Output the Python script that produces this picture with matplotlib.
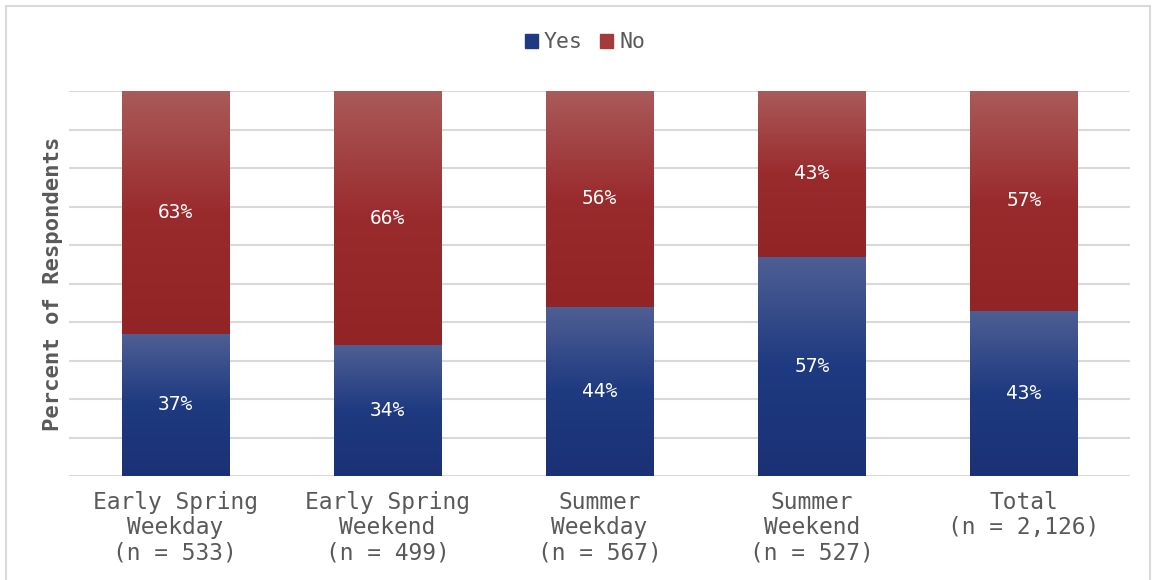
import numpy as np
import matplotlib.pyplot as plt
from matplotlib.patches import Rectangle
from matplotlib.colors import LinearSegmentedColormap

categories = ['Early Spring\nWeekday\n(n = 533)', 'Early Spring\nWeekend\n(n = 499)',
              'Summer\nWeekday\n(n = 567)', 'Summer\nWeekend\n(n = 527)', 'Total\n(n = 2,126)']
yes = [37, 34, 44, 57, 43]
no = [63, 66, 56, 43, 57]

plt.rcParams['font.family'] = ['DejaVu Sans Mono']
grey = '#595959'

fig = plt.figure(figsize=(11.52, 5.8), dpi=100)
ax = fig.add_axes([0.06, 0.179, 0.921, 0.664])

x = np.arange(len(categories))
w = 0.505
blue_cm = LinearSegmentedColormap.from_list('b', ['#1b3175', '#1e3a80', '#4f5f94'])
red_cm = LinearSegmentedColormap.from_list('r', ['#922426', '#9a2b2d', '#aa5a5a'])
grad = np.linspace(0, 1, 256).reshape(-1, 1)

def gradient_bar(xc, bottom, height, cmap):
    rect = Rectangle((xc - w / 2, bottom), w, height, facecolor='none', edgecolor='none')
    ax.add_patch(rect)
    im = ax.imshow(grad, cmap=cmap, aspect='auto', origin='lower',
                   extent=(xc - w / 2, xc + w / 2, bottom, bottom + height), zorder=2)
    im.set_clip_path(rect)

for i in range(len(categories)):
    gradient_bar(x[i], 0, yes[i], blue_cm)
    gradient_bar(x[i], yes[i], no[i], red_cm)
    ax.text(x[i], yes[i] / 2, f'{yes[i]}%', color='white', ha='center', va='center', fontsize=14, zorder=3)
    ax.text(x[i], yes[i] + no[i] / 2, f'{no[i]}%', color='white', ha='center', va='center', fontsize=14, zorder=3)

ax.set_xlim(-0.5, len(categories) - 0.5)
ax.set_ylim(0, 100)
ax.set_yticks(np.arange(0, 101, 10))
ax.set_yticklabels([])
ax.tick_params(axis='y', length=0)
ax.tick_params(axis='x', length=0, pad=11, labelsize=16.5, labelcolor=grey)
ax.set_xticks(x)
ax.set_xticklabels(categories, linespacing=1.1)
ax.grid(axis='y', color='#d9d9d9', linewidth=1.5, zorder=0)
ax.set_axisbelow(True)
for s in ax.spines.values():
    s.set_visible(False)
ax.set_ylabel('Percent of Respondents', fontsize=16, fontweight='bold', color=grey)
ax.yaxis.set_label_coords(-0.006, 0.5)

handles = [Rectangle((0, 0), 1, 1, color='#1f3a82'), Rectangle((0, 0), 1, 1, color='#a33b3b')]
fig.legend(handles, ['Yes', 'No'], loc='center', bbox_to_anchor=(0.508, 0.927), ncol=2, frameon=False,
           fontsize=15.5, handlelength=0.6, handleheight=0.6, handletextpad=0.3, columnspacing=0.8,
           labelcolor=grey)

fig.patches.append(Rectangle((6 / 1152, -0.01), 1144 / 1152, 1 - 6 / 580 + 0.01, transform=fig.transFigure,
                             fill=False, edgecolor='#d9d9d9', linewidth=1.5))

plt.savefig('out.png')
